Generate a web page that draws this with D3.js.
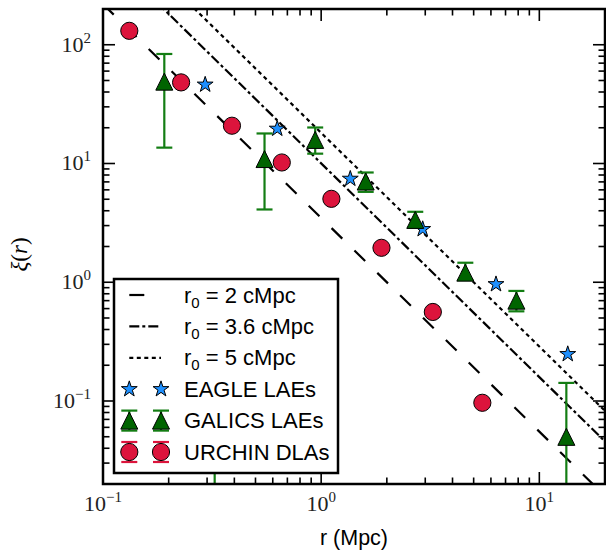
<!DOCTYPE html>
<html>
<head>
<meta charset="utf-8">
<script src="https://cdn.jsdelivr.net/npm/d3@7"></script>
<style>
  body { margin: 0; background: #fff; }
</style>
</head>
<body>
<svg id="chart"></svg>
<script>
const outerWidth = 606;
const outerHeight = 550;
const margin = { top: 9, right: 1, bottom: 66, left: 103 };
const width = outerWidth - margin.left - margin.right;
const height = outerHeight - margin.top - margin.bottom;

// power-law models xi = (r / r0)^-gamma
const gamma = 1.8;
const modelR0 = [2, 3.6, 5];
const modelLabels = ["2", "3.6", "5"];
const modelDashes = ["15,17", "10,3,3,3", "4,3.5"];

// EAGLE LAEs
const eagleR = [0.294, 0.629, 1.36, 2.92, 6.33, 13.5];
const eagleXi = [46.1, 19.6, 7.43, 2.80, 0.962, 0.248];

// GALICS LAEs with error bars
const galicsR = [0.191, 0.325, 0.55, 0.939, 1.60, 2.70, 4.58, 7.85, 13.3];
const galicsXi = [48.9, 0.05, 10.9, 15.8, 7.05, 3.35, 1.205, 0.70, 0.0499];
const galicsLo = [13.6, 0.003, 4.10, 12.1, 5.77, 2.87, 1.045, 0.569, 0.004];
const galicsHi = [83.6, 0.2, 17.9, 20.1, 8.4, 3.92, 1.46, 0.845, 0.142];

// URCHIN DLAs
const urchinR = [0.132, 0.228, 0.390, 0.660, 1.114, 1.89, 3.25, 5.48];
const urchinXi = [131, 48.2, 20.8, 10.2, 5.04, 1.95, 0.562, 0.0966];

const xTickExps = [-1, 0, 1];
const yTickExps = [-1, 0, 1, 2];

const colors = { eagle: "#1e90ff", galics: "#006400", galicsErr: "#137d13", urchin: "#dc143c" };
const sans = "'Liberation Sans', Arial, Helvetica, sans-serif";
const serif = "'Liberation Serif', 'Times New Roman', serif";

const chartSvg = d3.select("#chart")
    .attr("width", outerWidth)
    .attr("height", outerHeight);

const svg = chartSvg.append("g")
    .attr("transform", `translate(${margin.left},${margin.top})`);

const x = d3.scaleLog().domain([0.1, 20]).range([0, width]);
const y = d3.scaleLog().domain([0.02, 200]).range([height, 0]);

svg.append("clipPath").attr("id", "plot-clip")
    .append("rect").attr("width", width).attr("height", height);

const plot = svg.append("g").attr("clip-path", "url(#plot-clip)");

// model lines
const [xMin, xMax] = x.domain();
modelR0.forEach((r0, i) => {
    const pts = [xMin, xMax].map(r => [r, Math.pow(r / r0, -gamma)]);
    plot.append("path")
        .datum(pts)
        .attr("fill", "none")
        .attr("stroke", "black")
        .attr("stroke-width", 2.2)
        .attr("stroke-dasharray", modelDashes[i])
        .attr("d", d3.line().x(d => x(d[0])).y(d => y(d[1])));
});

const starPath = d3.symbol(d3.symbolStar, 78)();
const triPath = s => `M0,${-s}L${s},${s}L${-s},${s}Z`;

// EAGLE stars
plot.selectAll(".eagle")
    .data(eagleR.map((r, i) => ({ r, v: eagleXi[i] })))
    .enter().append("path")
    .attr("class", "eagle")
    .attr("transform", d => `translate(${x(d.r)},${y(d.v)})`)
    .attr("d", starPath)
    .attr("fill", colors.eagle)
    .attr("stroke", "black")
    .attr("stroke-width", 1);

// GALICS error bars + triangles
const galics = galicsR.map((r, i) => ({ r, v: galicsXi[i], lo: galicsLo[i], hi: galicsHi[i] }));
const eb = plot.selectAll(".gerr").data(galics).enter().append("g")
    .attr("class", "gerr")
    .attr("stroke", colors.galicsErr)
    .attr("stroke-width", 2.2);
eb.append("line")
    .attr("x1", d => x(d.r)).attr("x2", d => x(d.r))
    .attr("y1", d => y(d.lo)).attr("y2", d => y(d.hi));
eb.append("line")
    .attr("x1", d => x(d.r) - 8).attr("x2", d => x(d.r) + 8)
    .attr("y1", d => y(d.hi)).attr("y2", d => y(d.hi));
eb.append("line")
    .attr("x1", d => x(d.r) - 8).attr("x2", d => x(d.r) + 8)
    .attr("y1", d => y(d.lo)).attr("y2", d => y(d.lo));

plot.selectAll(".galics").data(galics).enter().append("path")
    .attr("class", "galics")
    .attr("transform", d => `translate(${x(d.r)},${y(d.v)})`)
    .attr("d", triPath(8.5))
    .attr("fill", colors.galics)
    .attr("stroke", "black")
    .attr("stroke-width", 1);

// URCHIN circles
plot.selectAll(".urchin")
    .data(urchinR.map((r, i) => ({ r, v: urchinXi[i] })))
    .enter().append("circle")
    .attr("class", "urchin")
    .attr("cx", d => x(d.r))
    .attr("cy", d => y(d.v))
    .attr("r", 8.6)
    .attr("fill", colors.urchin)
    .attr("stroke", "black")
    .attr("stroke-width", 1);

// ticks on all four sides, pointing inward
const tickLayer = svg.append("g").attr("stroke", "black").attr("stroke-width", 1.6);
function drawTicks(scale, horizontal) {
    scale.ticks().forEach(t => {
        const major = Math.abs(Math.log10(t) - Math.round(Math.log10(t))) < 1e-9;
        const len = major ? 12 : 6.5;
        const p = scale(t);
        if (horizontal) {
            tickLayer.append("line").attr("x1", p).attr("x2", p).attr("y1", height).attr("y2", height - len);
            tickLayer.append("line").attr("x1", p).attr("x2", p).attr("y1", 0).attr("y2", len);
        } else {
            tickLayer.append("line").attr("y1", p).attr("y2", p).attr("x1", 0).attr("x2", len);
            tickLayer.append("line").attr("y1", p).attr("y2", p).attr("x1", width).attr("x2", width - len);
        }
    });
}
drawTicks(x, true);
drawTicks(y, false);

// legend (opaque, drawn over the data)
const legend = svg.append("g").attr("transform", `translate(${114 - margin.left},${279 - margin.top})`);
legend.append("rect")
    .attr("width", 224).attr("height", 194)
    .attr("fill", "white").attr("stroke", "black").attr("stroke-width", 2.5);

const rowGap = 31.4;
const rowY = i => 16 + i * rowGap;
const m1 = 129.3 - 114, m2 = 161 - 114, textX = 184 - 114;

function legendText(row, main, sub, rest) {
    const t = legend.append("text")
        .attr("x", textX).attr("y", rowY(row) + 7.5)
        .style("font-family", sans)
        .style("font-size", "22px");
    t.append("tspan").text(main);
    if (sub) {
        t.append("tspan").attr("dy", 5).style("font-size", "15px").text(sub);
        t.append("tspan").attr("dy", -5).text(rest);
    }
}

modelR0.forEach((r0, i) => {
    legend.append("line")
        .attr("x1", m1).attr("x2", m2)
        .attr("y1", rowY(i)).attr("y2", rowY(i))
        .attr("stroke", "black").attr("stroke-width", 2.2)
        .attr("stroke-dasharray", modelDashes[i]);
    legendText(i, "r", "0", ` = ${modelLabels[i]} cMpc`);
});

[m1, m2].forEach(mx => {
    legend.append("path")
        .attr("transform", `translate(${mx},${rowY(3)})`)
        .attr("d", starPath).attr("fill", colors.eagle)
        .attr("stroke", "black").attr("stroke-width", 1);

    const g = legend.append("g").attr("stroke", colors.galicsErr).attr("stroke-width", 2.2);
    g.append("line").attr("x1", mx).attr("x2", mx).attr("y1", rowY(4) - 10).attr("y2", rowY(4) + 10);
    g.append("line").attr("x1", mx - 8).attr("x2", mx + 8).attr("y1", rowY(4) - 10).attr("y2", rowY(4) - 10);
    g.append("line").attr("x1", mx - 8).attr("x2", mx + 8).attr("y1", rowY(4) + 10).attr("y2", rowY(4) + 10);
    legend.append("path")
        .attr("transform", `translate(${mx},${rowY(4)})`)
        .attr("d", triPath(8.5)).attr("fill", colors.galics)
        .attr("stroke", "black").attr("stroke-width", 1);

    const h = legend.append("g").attr("stroke", colors.urchin).attr("stroke-width", 2.2);
    h.append("line").attr("x1", mx).attr("x2", mx).attr("y1", rowY(5) - 10).attr("y2", rowY(5) + 10);
    h.append("line").attr("x1", mx - 8).attr("x2", mx + 8).attr("y1", rowY(5) - 10).attr("y2", rowY(5) - 10);
    h.append("line").attr("x1", mx - 8).attr("x2", mx + 8).attr("y1", rowY(5) + 10).attr("y2", rowY(5) + 10);
    legend.append("circle")
        .attr("cx", mx).attr("cy", rowY(5)).attr("r", 8.6)
        .attr("fill", colors.urchin).attr("stroke", "black").attr("stroke-width", 1);
});

legendText(3, "EAGLE LAEs");
legendText(4, "GALICS LAEs");
legendText(5, "URCHIN DLAs");

// frame
svg.append("rect")
    .attr("width", width).attr("height", height)
    .attr("fill", "none").attr("stroke", "black").attr("stroke-width", 2.5);

// tick labels 10^n
function powerLabel(sel, exp) {
    sel.style("font-family", serif).style("font-size", "22px").attr("fill", "#222");
    sel.append("tspan").text("10");
    sel.append("tspan").attr("dy", -9).style("font-size", "15px")
        .text(exp < 0 ? "\u2212" + (-exp) : String(exp));
}

xTickExps.forEach(e => {
    const t = svg.append("text")
        .attr("x", x(Math.pow(10, e)))
        .attr("y", 511 - margin.top)
        .attr("text-anchor", "middle");
    powerLabel(t, e);
});

yTickExps.forEach(e => {
    const t = svg.append("text")
        .attr("x", 91 - margin.left)
        .attr("y", y(Math.pow(10, e)) + 7)
        .attr("text-anchor", "end");
    powerLabel(t, e);
});

// axis titles
svg.append("text")
    .attr("x", width / 2)
    .attr("y", 545 - margin.top)
    .attr("text-anchor", "middle")
    .style("font-family", sans)
    .style("font-size", "21.5px")
    .text("r (Mpc)");

const yl = svg.append("text")
    .attr("transform", `translate(${27 - margin.left},${height / 2 + 8}) rotate(-90)`)
    .attr("text-anchor", "middle")
    .style("font-family", serif)
    .style("font-size", "23px");
yl.append("tspan").style("font-style", "italic").text("\u03be");
yl.append("tspan").text("(");
yl.append("tspan").style("font-style", "italic").text("r");
yl.append("tspan").text(")");
</script>
</body>
</html>
